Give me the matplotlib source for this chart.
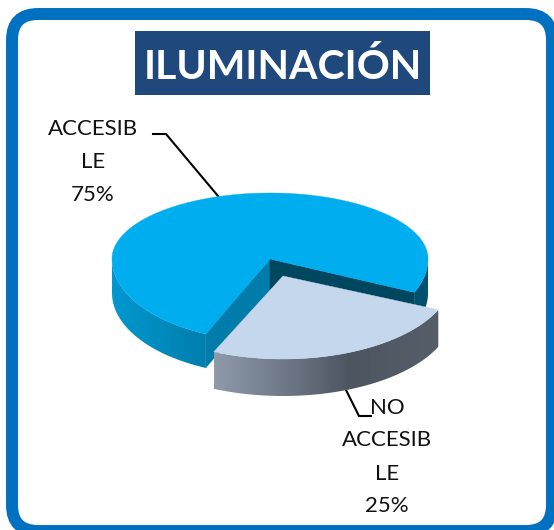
"""
Gráfico de iluminación: pastel 3D con porciones separadas
"""

import numpy as np
import matplotlib
matplotlib.use("Agg")
import matplotlib.pyplot as plt
from matplotlib.patches import FancyBboxPatch, Polygon, Rectangle
from matplotlib.colors import to_rgb

plt.rcParams['font.family'] = ['Lato', 'DejaVu Sans']

titulo = "ILUMINACIÓN"
etiquetas = ["ACCESIB\nLE\n75%", "NO\nACCESIB\nLE\n25%"]
valores = [75, 25]

ANGULO_INICIO = 24   # grados, sentido horario desde el este


def punto(centro, a, b_arriba, b_abajo, ang):
    c, s = np.cos(np.radians(ang)), np.sin(np.radians(ang))
    b = np.where(s < 0, b_arriba, b_abajo)
    return centro[0] + a * c, centro[1] + b * s


def lado_curvo(ax, centro, a, b1, b2, alto, ang1, ang2, paradas, z):
    """Pared exterior con degradado horizontal, recortada a la forma"""
    angs = np.linspace(ang1, ang2, 200)
    xs, ys = punto(centro, a, b1, b2, angs)
    pts = list(zip(xs, ys)) + list(zip(xs[::-1], ys[::-1] + alto))
    forma = Polygon(pts, closed=True, fc='none', ec='none', transform=ax.transData)
    ax.add_patch(forma)

    x0, x1 = xs.min(), xs.max()
    columnas = np.linspace(x0, x1, 300)
    pos = [p[0] for p in paradas]
    cols = np.array([to_rgb(p[1]) for p in paradas])
    grad = np.stack([np.interp(columnas, pos, cols[:, k]) for k in range(3)], axis=-1)[None, :, :]
    img = ax.imshow(grad, extent=(x0, x1, ys.max() + alto, ys.min()), aspect='auto',
                    interpolation='bilinear', zorder=z)
    img.set_clip_path(forma)


def cara(ax, centro, a, b1, b2, ang1, ang2, color, z):
    angs = np.linspace(ang1, ang2, 240)
    xs, ys = punto(centro, a, b1, b2, angs)
    pts = [centro] + list(zip(xs, ys))
    ax.add_patch(Polygon(pts, closed=True, fc=color, ec=color, lw=0.3, zorder=z))


fig = plt.figure(figsize=(5.54, 5.30), dpi=100)
ax = fig.add_axes([0, 0, 1, 1])

# Marco redondeado
ax.add_patch(FancyBboxPatch((12, 14), 540, 517, boxstyle="round,pad=0,rounding_size=26",
                            fc='white', ec='#0070C0', lw=8.6, zorder=1))

# Título
ax.add_patch(Rectangle((135, 31), 295, 64, fc='#1F497D', ec='none', zorder=2))
ax.text(282.5, 79, titulo, color='white', fontsize=29.5, fontweight='bold',
        ha='center', va='baseline', zorder=3)

# Ángulos de cada porción a partir de los valores
total = sum(valores)
span_no = 360 * valores[1] / total
ang_no = (ANGULO_INICIO, ANGULO_INICIO + span_no)
ang_si = (ang_no[1], ANGULO_INICIO + 360)

# Porción azul (ACCESIBLE)
c_si = (270, 259)
a_si, b1_si, b2_si, alto_si = 158, 66, 82, 34
x1, y1 = punto(c_si, a_si, b1_si, b2_si, ang_si[0])
x2, y2 = punto(c_si, a_si, b1_si, b2_si, ang_si[1])
lado_curvo(ax, c_si, a_si, b1_si, b2_si, alto_si, ang_si[0], 180, [(112, '#0098CF'), (199, '#0080B0')], 4)
ax.add_patch(Polygon([c_si, (x1, y1), (x1, y1 + alto_si), (c_si[0], c_si[1] + alto_si)],
                     closed=True, fc='#007CAB', ec='#007CAB', lw=0.3, zorder=5))
lado_curvo(ax, c_si, a_si, b1_si, b2_si, alto_si, 360, ang_si[1], [(413, '#00506F'), (428, '#00506F')], 4)
ax.add_patch(Polygon([c_si, (x2, y2), (x2, y2 + alto_si), (c_si[0], c_si[1] + alto_si)],
                     closed=True, fc='#00465F', ec='#00465F', lw=0.3, zorder=5))
cara(ax, c_si, a_si, b1_si, b2_si, ang_si[0], ang_si[1], '#00AEEF', 6)

# Porción clara (NO ACCESIBLE)
c_no = (283, 276)
a_no, b1_no, b2_no, alto_no = 170, 83, 83, 37
lado_curvo(ax, c_no, a_no, b1_no, b2_no, alto_no, ang_no[0], ang_no[1],
           [(213, '#8F9AAB'), (285, '#6E7887'), (350, '#4C5560'), (437, '#555E69')], 7)
cara(ax, c_no, a_no, b1_no, b2_no, ang_no[0], ang_no[1], '#C5D7EC', 8)

# Etiquetas y líneas guía
ax.plot([153, 166, 218], [134, 134, 196], color='black', lw=1.5, zorder=3, solid_joinstyle='miter')
ax.plot([345, 359, 371], [388, 416, 416], color='black', lw=1.5, zorder=3, solid_joinstyle='miter')
for y, linea in zip([129, 162, 195], etiquetas[0].split("\n")):
    ax.text(93, y, linea, fontsize=16, ha='center', va='center', color='#111111', zorder=9)
for y, linea in zip([408, 440, 474, 506], etiquetas[1].split("\n")):
    ax.text(387, y, linea, fontsize=16, ha='center', va='center', color='#111111', zorder=9)

ax.set_xlim(0, 554)
ax.set_ylim(530, 0)
ax.axis('off')

fig.savefig('out.png', dpi=100)
